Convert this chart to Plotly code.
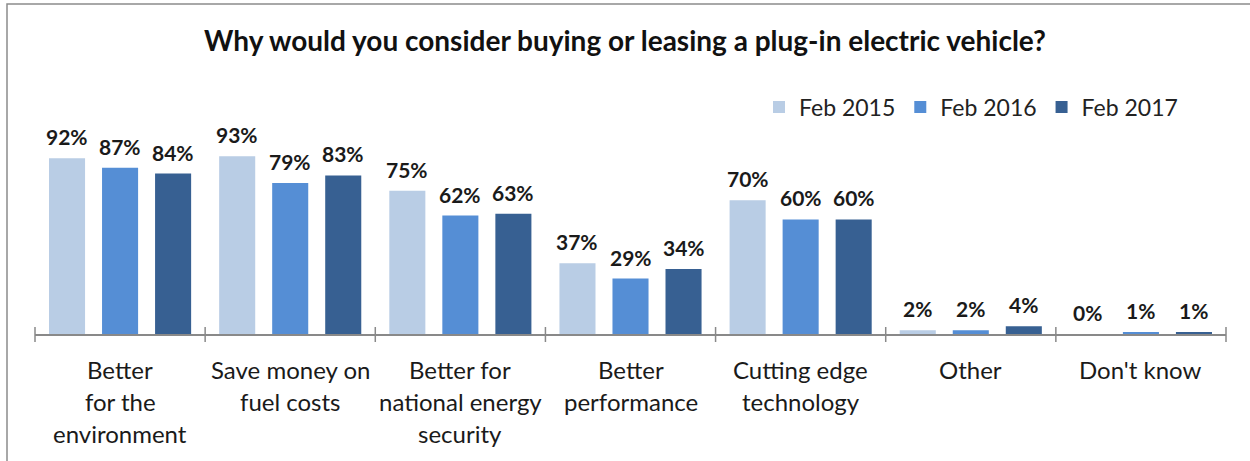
import plotly.graph_objects as go

categories = ["Better for the environment", "Save money on fuel costs",
              "Better for national energy security", "Better performance",
              "Cutting edge technology", "Other", "Don't know"]
category_lines = [["Better", "for the", "environment"],
                  ["Save money on", "fuel costs"],
                  ["Better for", "national energy", "security"],
                  ["Better", "performance"],
                  ["Cutting edge", "technology"],
                  ["Other"],
                  ["Don't know"]]
series_names = ["Feb 2015", "Feb 2016", "Feb 2017"]
feb2015 = [92, 93, 75, 37, 70, 2, 0]
feb2016 = [87, 79, 62, 29, 60, 2, 1]
feb2017 = [84, 83, 63, 34, 60, 4, 1]
series_values = [feb2015, feb2016, feb2017]
colors = ["#B9CDE5", "#558ED5", "#376092"]

W, H = 1250, 461
ML, MR, MT, MB = 35, 24, 143, 127
BARGAP = 0.065
BARGROUPGAP = 0.32
FONT = "Lato"

fig = go.Figure()
for name, vals, col in zip(series_names, series_values, colors):
    fig.add_trace(go.Bar(x=categories, y=vals, name=name, marker_color=col,
                         marker_line_width=0, hoverinfo="x+y"))

plot_w = W - ML - MR
plot_h = H - MT - MB
cat_w = plot_w / len(categories)
spacing = cat_w * (1 - BARGAP) / len(series_names)

annotations = []
for i, vals in enumerate(series_values):
    for cat, v in zip(categories, vals):
        annotations.append(dict(x=cat, y=v, xref="x", yref="y", text=f"<b>{v}%</b>",
                                showarrow=False, yanchor="bottom",
                                xshift=(i - 1) * spacing, yshift=7,
                                font=dict(family=FONT, size=21, color="#1a1a1a")))
for cat, lines in zip(categories, category_lines):
    for k, line in enumerate(lines):
        annotations.append(dict(x=cat, y=0, xref="x", yref="paper", text=line,
                                showarrow=False, yanchor="middle",
                                yshift=-35 - 32 * k,
                                font=dict(family=FONT, size=24, color="#1a1a1a")))

shapes = []
for j in range(len(categories) + 1):
    shapes.append(dict(type="line", xref="paper", x0=j / len(categories),
                       x1=j / len(categories), yref="paper",
                       y0=-8 / plot_h, y1=7 / plot_h,
                       line=dict(color="#898989", width=1.5)))
# chart border (top and left edges visible)
shapes.append(dict(type="rect", xref="paper", xsizemode="pixel", xanchor=0,
                   x0=-(ML - 7), x1=W, yref="paper", ysizemode="pixel", yanchor=1,
                   y0=-H, y1=MT - 4, line=dict(color="#8c8c8c", width=1.5),
                   fillcolor="rgba(0,0,0,0)"))

fig.update_layout(
    width=W, height=H,
    margin=dict(l=ML, r=MR, t=MT, b=MB),
    barmode="group", bargap=BARGAP, bargroupgap=BARGROUPGAP,
    plot_bgcolor="white", paper_bgcolor="white",
    title=dict(text="<b>Why would you consider buying or leasing a plug-in electric vehicle?</b>",
               x=0.5, xanchor="center", y=1 - 41 / H, yanchor="middle",
               font=dict(family=FONT, size=28, color="#111111")),
    legend=dict(orientation="h", x=(1183 - ML) / plot_w, xanchor="right",
                y=1 + (MT - 107) / plot_h, yanchor="middle",
                font=dict(family=FONT, size=23, color="#222222"),
                bgcolor="rgba(0,0,0,0)", traceorder="normal"),
    xaxis=dict(type="category", range=[-0.5, len(categories) - 0.5],
               showticklabels=False, ticks="", showline=True,
               linecolor="#898989", linewidth=1.5, showgrid=False, zeroline=False,
               fixedrange=True),
    yaxis=dict(range=[0, 100], visible=False, showgrid=False, zeroline=False,
               fixedrange=True),
    annotations=annotations,
    shapes=shapes,
    showlegend=True,
)

fig.write_html("out.html", config={"displayModeBar": False},
               post_script="document.body.style.margin='0px';document.body.style.overflow='hidden';")
